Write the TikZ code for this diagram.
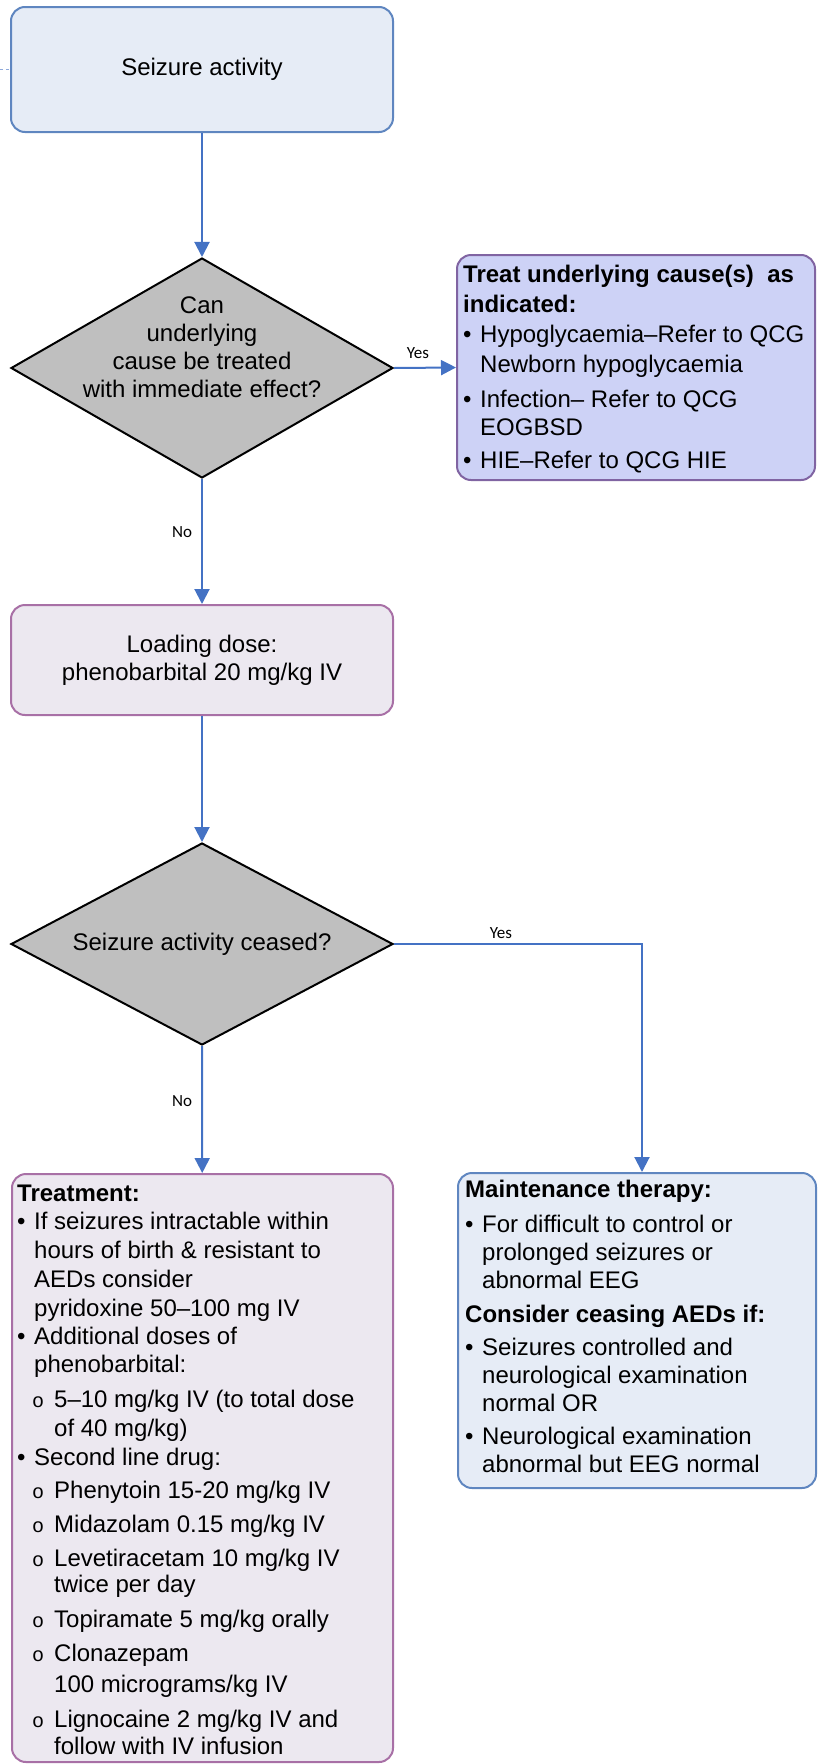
\documentclass[tikz,border=0pt]{standalone}
\usepackage{fontspec}
\setmainfont{Liberation Sans}
\newfontfamily\labelfont{Carlito}
\newfontfamily\circfont{Liberation Mono}
\usepackage{tikz}
\usetikzlibrary{arrows.meta, shapes.geometric}
\definecolor{startfill}{HTML}{E6ECF6}
\definecolor{startline}{HTML}{5F86C0}
\definecolor{dosefill}{HTML}{ECE8F0}
\definecolor{doseline}{HTML}{A870A6}
\definecolor{causefill}{HTML}{CDD2F6}
\definecolor{causeline}{HTML}{8064A2}
\definecolor{flowblue}{HTML}{4472C4}
\definecolor{stubblue}{HTML}{8EA9DB}
\newcommand{\itm}{\makebox[17pt][l]{\textbullet}}
\newcommand{\subitm}{\hspace*{15pt}\makebox[22pt][l]{\circfont\fontsize{20}{20}\selectfont o}}
\newcommand{\cont}{\hspace*{17pt}}
\newcommand{\subcont}{\hspace*{37pt}}

\begin{document}
\begin{tikzpicture}[x=1pt, y=-1pt,
  bluebox/.style={draw=startline, fill=startfill, line width=2pt, rounded corners=14pt, inner sep=0pt},
  mauvebox/.style={draw=doseline, fill=dosefill, line width=2pt, rounded corners=14pt, inner sep=0pt},
  lilacbox/.style={draw=causeline, fill=causefill, line width=2pt, rounded corners=14pt, inner sep=0pt},
  decision/.style={diamond, draw=black, fill=black!25, line width=2pt, inner sep=0pt},
  txt/.style={inner sep=0pt, font=\fontsize{24}{28}\selectfont},
  yesno/.style={inner sep=0pt, font=\labelfont\fontsize{17}{20}\selectfont},
  flow/.style={draw=flowblue, line width=2pt, >={Triangle[length=15pt, width=15pt]}}]

	\useasboundingbox (0,0) rectangle (817,1764);

	\draw(202,69.5) node[bluebox, minimum width=382pt, minimum height=125pt, txt] (act) {Seizure activity};

	\draw(202,368) node[decision, minimum width=382pt, minimum height=220pt] (q1) {};
	\draw(202,297) node[txt, anchor=north, align=center] (q1txt) {Can\\underlying\\cause be treated\\with immediate effect?};

	\draw(636,367.5) node[lilacbox, minimum width=358pt, minimum height=225pt] (cause) {};
	\draw(463,265) node[txt, anchor=north west, align=left] (causetxt) {\textbf{Treat underlying cause(s)\ \ as}\\[2pt]
		\textbf{indicated:}\\[2pt]
		\itm Hypoglycaemia–Refer to QCG\\[2pt]
		\cont Newborn hypoglycaemia\\[7pt]
		\itm Infection– Refer to QCG\\
		\cont EOGBSD\\[5pt]
		\itm HIE–Refer to QCG HIE};

	\draw(202,660) node[mauvebox, minimum width=382pt, minimum height=110pt, txt, align=center] (load) {Loading dose:\\phenobarbital 20 mg/kg IV};

	\draw(202,944) node[decision, minimum width=382pt, minimum height=202pt] (q2) {};
	\draw(202,944) node[txt] (q2txt) {Seizure activity ceased?};

	\draw(637,1330.5) node[bluebox, minimum width=358pt, minimum height=315pt] (maint) {};
	\draw(465,1180) node[txt, anchor=north west, align=left] (mainttxt) {\textbf{Maintenance therapy:}\\[7pt]
		\itm For difficult to control or\\
		\cont prolonged seizures or\\
		\cont abnormal EEG\\[6pt]
		\textbf{Consider ceasing AEDs if:}\\[5pt]
		\itm Seizures controlled and\\
		\cont neurological examination\\
		\cont normal OR\\[5pt]
		\itm Neurological examination\\
		\cont abnormal but EEG normal};

	\draw(202.5,1468) node[mauvebox, minimum width=381pt, minimum height=588pt] (treat) {};
	\draw(17,1185) node[txt, anchor=north west, align=left] (treattxt) {\textbf{Treatment:}\\
		\itm If seizures intractable within\\[1pt]
		\cont hours of birth \& resistant to\\[1pt]
		\cont AEDs consider\\[1pt]
		\cont pyridoxine 50–100 mg IV\\
		\itm Additional doses of\\
		\cont phenobarbital:\\[7pt]
		\subitm 5–10 mg/kg IV (to total dose\\[1pt]
		\subcont of 40 mg/kg)\\[1pt]
		\itm Second line drug:\\[5pt]
		\subitm Phenytoin 15-20 mg/kg IV\\[6pt]
		\subitm Midazolam 0.15 mg/kg IV\\[6pt]
		\subitm Levetiracetam 10 mg/kg IV\\[-2pt]
		\subcont twice per day\\[7pt]
		\subitm Topiramate 5 mg/kg orally\\[6pt]
		\subitm Clonazepam\\[3pt]
		\subcont 100 micrograms/kg IV\\[7pt]
		\subitm Lignocaine 2 mg/kg IV and\\[-1pt]
		\subcont follow with IV infusion};

	\draw(418,353) node[yesno] (yes1) {Yes};
	\draw(182,532) node[yesno] (no1) {No};
	\draw(501,933) node[yesno] (yes2) {Yes};
	\draw(182,1101) node[yesno] (no2) {No};

	\coordinate (stub) at (0,69.5);
	\draw[draw=stubblue, line width=1pt, dashed] (stub) -- (act.west);
	\draw[flow, ->] (act) -- (q1);
	\draw[flow, ->] (q1.east) -- (cause.west);
	\draw[flow, ->] (q1) -- (load);
	\draw[flow, ->] (load) -- (q2);
	\draw[flow, ->] (q2) -- (treat);
	\draw[flow, ->] (q2.east) -| ([xshift=5pt]maint.north);
\end{tikzpicture}
\end{document}
